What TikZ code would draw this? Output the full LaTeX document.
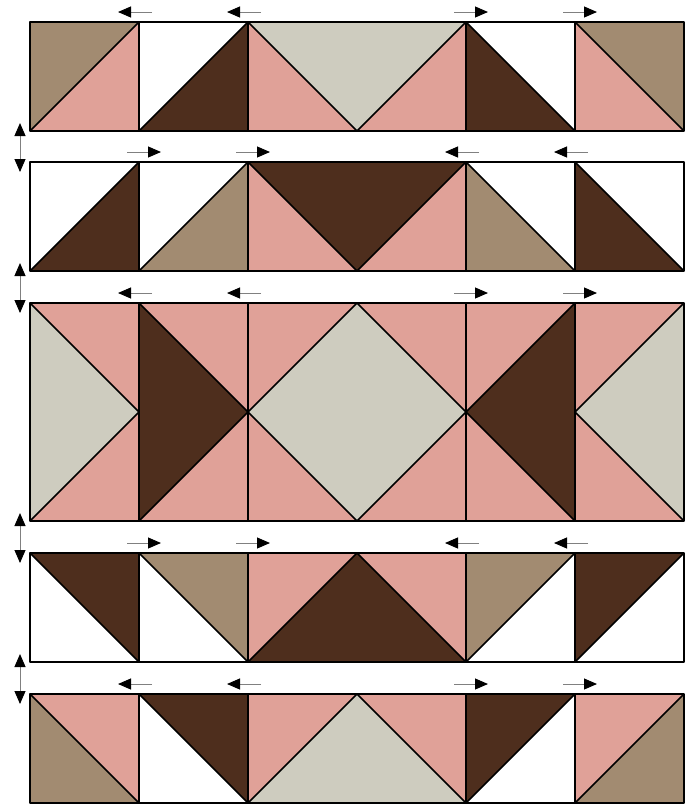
\documentclass[tikz,border=0pt]{standalone}
\usetikzlibrary{arrows.meta}

\definecolor{fabtan}{RGB}{162,139,113}
\definecolor{fabpink}{RGB}{224,161,152}
\definecolor{fabbrown}{RGB}{78,46,29}
\definecolor{fabgray}{RGB}{206,204,191}

\begin{document}
\begin{tikzpicture}[x=1pt, y=-1pt,
	seam/.style={black, line width=1.7pt, line join=round},
	push/.style={gray, line width=1pt, -{Triangle[length=13pt, width=11pt, color=black]}},
	flip/.style={gray, line width=1pt, {Triangle[length=13pt, width=11pt, color=black]}-{Triangle[length=13pt, width=11pt, color=black]}}]
	\def\s{109}		% block size
	
	% Half square, seam from lower left to upper right (#3 upper left, #4 lower right)
	\def\squp#1#2#3#4{
		\fill[#3] (#1,#2) -- ++(\s,0) -- ++(-\s,\s) -- cycle;
		\fill[#4] (#1,#2) ++(\s,0) -- ++(0,\s) -- ++(-\s,0) -- cycle;
		\draw[seam] (#1,#2) ++(0,\s) -- ++(\s,-\s);
	}
	% Half square, seam from upper left to lower right (#3 upper right, #4 lower left)
	\def\sqdn#1#2#3#4{
		\fill[#3] (#1,#2) -- ++(\s,0) -- ++(0,\s) -- cycle;
		\fill[#4] (#1,#2) -- ++(\s,\s) -- ++(-\s,0) -- cycle;
		\draw[seam] (#1,#2) -- ++(\s,\s);
	}
	% Row frame (top, bottom); no seam down the middle
	\def\rowframe#1#2{
		\draw[seam] (30,#1) rectangle (684,#2);
		\foreach \x in {139,248,466,575}
			\draw[seam] (\x,#1) -- (\x,#2);
	}
	% Shift arrows above a seam
	\def\pushl#1#2{\draw[push] (#1,#2) ++(13,-10) -- +(-34,0);}
	\def\pushr#1#2{\draw[push] (#1,#2) ++(-12,-10) -- +(34,0);}
	
	\useasboundingbox (0,0) rectangle (693,804);
	
	% Row 1
	\squp{30}{22}{fabtan}{fabpink}
	\squp{139}{22}{white}{fabbrown}
	\sqdn{248}{22}{fabgray}{fabpink}
	\squp{357}{22}{fabgray}{fabpink}
	\sqdn{466}{22}{white}{fabbrown}
	\sqdn{575}{22}{fabtan}{fabpink}
	\rowframe{22}{131}
	
	% Row 2
	\squp{30}{162}{white}{fabbrown}
	\squp{139}{162}{white}{fabtan}
	\sqdn{248}{162}{fabbrown}{fabpink}
	\squp{357}{162}{fabbrown}{fabpink}
	\sqdn{466}{162}{white}{fabtan}
	\sqdn{575}{162}{white}{fabbrown}
	\rowframe{162}{271}
	
	% Row 3 (two blocks high)
	\sqdn{30}{303}{fabpink}{fabgray}
	\sqdn{139}{303}{fabpink}{fabbrown}
	\squp{248}{303}{fabpink}{fabgray}
	\sqdn{357}{303}{fabpink}{fabgray}
	\squp{466}{303}{fabpink}{fabbrown}
	\squp{575}{303}{fabpink}{fabgray}
	\squp{30}{412}{fabgray}{fabpink}
	\squp{139}{412}{fabbrown}{fabpink}
	\sqdn{248}{412}{fabgray}{fabpink}
	\squp{357}{412}{fabgray}{fabpink}
	\sqdn{466}{412}{fabbrown}{fabpink}
	\sqdn{575}{412}{fabgray}{fabpink}
	\rowframe{303}{521}
	
	% Row 4
	\sqdn{30}{553}{fabbrown}{white}
	\sqdn{139}{553}{fabtan}{white}
	\squp{248}{553}{fabpink}{fabbrown}
	\sqdn{357}{553}{fabpink}{fabbrown}
	\squp{466}{553}{fabtan}{white}
	\squp{575}{553}{fabbrown}{white}
	\rowframe{553}{662}
	
	% Row 5
	\sqdn{30}{694}{fabpink}{fabtan}
	\sqdn{139}{694}{fabbrown}{white}
	\squp{248}{694}{fabpink}{fabgray}
	\sqdn{357}{694}{fabpink}{fabgray}
	\squp{466}{694}{fabbrown}{white}
	\squp{575}{694}{fabpink}{fabtan}
	\rowframe{694}{803}
	
	% Seam shifts
	\pushl{139}{22} \pushl{248}{22} \pushr{466}{22} \pushr{575}{22}
	\pushr{139}{162} \pushr{248}{162} \pushl{466}{162} \pushl{575}{162}
	\pushl{139}{303} \pushl{248}{303} \pushr{466}{303} \pushr{575}{303}
	\pushr{139}{553} \pushr{248}{553} \pushl{466}{553} \pushl{575}{553}
	\pushl{139}{694} \pushl{248}{694} \pushr{466}{694} \pushr{575}{694}
	
	% Row flips
	\coordinate (f1) at (20,123);
	\coordinate (f2) at (20,263);
	\coordinate (f3) at (20,513);
	\coordinate (f4) at (20,654);
	\draw[flip] (f1) -- +(0,49);
	\draw[flip] (f2) -- +(0,50);
	\draw[flip] (f3) -- +(0,50);
	\draw[flip] (f4) -- +(0,50);
\end{tikzpicture}
\end{document}
